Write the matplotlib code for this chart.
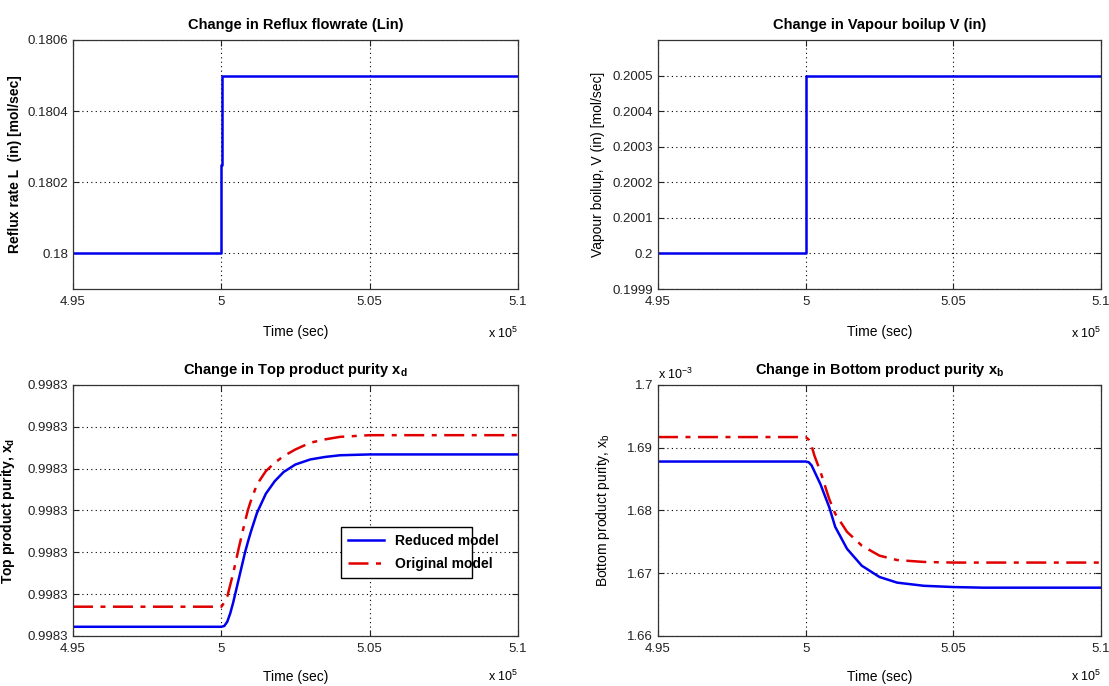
import matplotlib
matplotlib.use("Agg")
import matplotlib.pyplot as plt
from matplotlib.ticker import FuncFormatter, FormatStrFormatter

# --- data ---------------------------------------------------------------
# step inputs (time in seconds)
t_step = [495000, 500000, 500000, 500015, 500015, 510000]
L_in = [0.18, 0.18, 0.18025, 0.18025, 0.1805, 0.1805]
V_in = [0.2, 0.2, 0.20025, 0.20025, 0.2005, 0.2005]

# top product purity
t_xd = [495000, 500000, 500100, 500200, 500300, 500400, 500500, 500600, 500700,
        500800, 500900, 501000, 501200, 501500, 501800, 502100, 502500,
        503000, 503500, 504000, 505000, 510000]
xd_reduced = [0.9983011, 0.9983011, 0.9983012, 0.9983017, 0.9983027, 0.9983040,
              0.9983055, 0.9983070, 0.9983085, 0.9983100, 0.9983113, 0.9983125,
              0.9983147, 0.9983170, 0.9983185, 0.9983196, 0.9983205,
              0.9983211, 0.9983214, 0.9983216, 0.9983217, 0.9983217]
xd_original = [0.9983035, 0.9983035, 0.9983040, 0.9983047, 0.9983061, 0.9983075,
               0.9983091, 0.9983107, 0.9983122, 0.9983137, 0.9983151, 0.9983162,
               0.9983181, 0.9983197, 0.9983207, 0.9983215, 0.9983223,
               0.9983231, 0.9983235, 0.9983238, 0.9983240, 0.9983240]

# bottom product purity
t_xb = [495000, 500000, 500100, 500200, 500300, 500500, 500800, 501000,
        501400, 501900, 502500, 503100, 504000, 505000, 506000, 510000]
xb_reduced = [1.6878e-3, 1.6878e-3, 1.6877e-3, 1.6872e-3, 1.6862e-3, 1.6842e-3,
              1.6805e-3, 1.6774e-3, 1.6739e-3, 1.6712e-3, 1.6694e-3, 1.6685e-3,
              1.6680e-3, 1.6678e-3, 1.6677e-3, 1.6677e-3]
xb_original = [1.6917e-3, 1.6917e-3, 1.6913e-3, 1.6903e-3, 1.6887e-3, 1.6862e-3,
               1.6818e-3, 1.6795e-3, 1.6766e-3, 1.6744e-3, 1.6728e-3, 1.6721e-3,
               1.6718e-3, 1.6717e-3, 1.6717e-3, 1.6717e-3]

x_ticks = [495000, 500000, 505000, 510000]
L_ticks = [0.18, 0.1802, 0.1804, 0.1806]
V_ticks = [0.1999, 0.2, 0.2001, 0.2002, 0.2003, 0.2004, 0.2005]
xd_ticks = [0.998300, 0.998305, 0.998310, 0.998315, 0.998320, 0.998325, 0.998330]
xb_ticks = [1.66e-3, 1.67e-3, 1.68e-3, 1.69e-3, 1.70e-3]

# --- style --------------------------------------------------------------
plt.rcParams["font.family"] = ["Liberation Sans", "DejaVu Sans"]
plt.rcParams["mathtext.fontset"] = "custom"
plt.rcParams["mathtext.rm"] = "Liberation Sans"
plt.rcParams["mathtext.it"] = "Liberation Sans"
plt.rcParams["mathtext.bf"] = "Liberation Sans:bold"
plt.rcParams["axes.linewidth"] = 0.9
plt.rcParams["xtick.direction"] = "in"
plt.rcParams["ytick.direction"] = "in"
plt.rcParams["xtick.top"] = True
plt.rcParams["ytick.right"] = True

BLUE = "#0000ee"
RED = "#e00000"
FS = 9.5

fig = plt.figure(figsize=(11.09, 6.86), dpi=100)
ax1 = fig.add_axes([0.0658, 0.5787, 0.4013, 0.3630])
ax2 = fig.add_axes([0.5933, 0.5787, 0.3995, 0.3630])
ax3 = fig.add_axes([0.0658, 0.0729, 0.4013, 0.3659])
ax4 = fig.add_axes([0.5933, 0.0729, 0.3995, 0.3659])

xfmt = FuncFormatter(lambda v, p: f"{v / 1e5:g}")
for i, ax in enumerate((ax1, ax2, ax3, ax4)):
    top_row = i < 2
    ax.set_xlim(495000, 510000)
    ax.set_xticks(x_ticks)
    ax.xaxis.set_major_formatter(xfmt)
    ax.grid(True, color="k", linestyle=(0, (1, 3)), linewidth=0.8)
    ax.tick_params(labelsize=FS, length=4, width=0.8, colors="#222222")
    ax.tick_params(axis="x", pad=5)
    ax.set_xlabel("Time (sec)", fontsize=FS + 0.5)
    ax.xaxis.set_label_coords(0.5, -0.145 if top_row else -0.135)
    ax.text(1.0, -0.177 if top_row else -0.16, r"x 10$^{5}$", transform=ax.transAxes,
            fontsize=FS - 0.5, ha="right", va="center")
    for s in ax.spines.values():
        s.set_color("#333333")

# top-left: reflux
ax1.plot(t_step, L_in, color=BLUE, lw=1.8)
ax1.set_ylim(0.1799, 0.1806)
ax1.set_yticks(L_ticks)
ax1.yaxis.set_major_formatter(FuncFormatter(lambda v, p: f"{v:g}"))
ax1.set_title("Change in Reflux flowrate (Lin)", fontsize=FS + 1, fontweight="bold", pad=8)
ax1.set_ylabel("Reflux rate L  (in) [mol/sec]", fontsize=FS + 0.5, fontweight="bold")
ax1.yaxis.set_label_coords(-0.115, 0.5)

# top-right: vapour boilup
ax2.plot(t_step, V_in, color=BLUE, lw=1.8)
ax2.set_ylim(0.1999, 0.20060)
ax2.set_yticks(V_ticks)
ax2.yaxis.set_major_formatter(FuncFormatter(lambda v, p: f"{v:g}"))
ax2.set_title("Change in Vapour boilup V (in)", fontsize=FS + 1, fontweight="bold", pad=8)
ax2.set_ylabel("Vapour boilup, V (in) [mol/sec]", fontsize=FS + 0.5)
ax2.yaxis.set_label_coords(-0.12, 0.5)

# bottom-left: top product purity
ax3.plot(t_xd, xd_reduced, color=BLUE, lw=1.8, label="Reduced model")
ax3.plot(t_xd, xd_original, color=RED, lw=1.8, dashes=(8, 3, 2, 3),
         label="Original model")
ax3.set_ylim(0.998300, 0.998330)
ax3.set_yticks(xd_ticks)
ax3.yaxis.set_major_formatter(FormatStrFormatter("%.4f"))
ax3.set_title(r"Change in Top product purity x$_\mathbf{d}$", fontsize=FS + 1,
              fontweight="bold", pad=8)
ax3.set_ylabel(r"Top product purity, x$_\mathbf{d}$", fontsize=FS + 0.5,
               fontweight="bold")
ax3.yaxis.set_label_coords(-0.125, 0.5)
leg = ax3.legend(loc="lower left", bbox_to_anchor=(0.587, 0.205, 0.325, 0.233),
                 mode="expand", fancybox=False, framealpha=1, edgecolor="k",
                 handlelength=2.6, borderpad=0.5, labelspacing=0.6,
                 prop={"weight": "bold", "size": FS + 0.5})
leg.get_frame().set_linewidth(1.0)

# bottom-right: bottom product purity
ax4.plot(t_xb, xb_reduced, color=BLUE, lw=1.8)
ax4.plot(t_xb, xb_original, color=RED, lw=1.8, dashes=(8, 3, 2, 3))
ax4.set_ylim(1.66e-3, 1.70e-3)
ax4.set_yticks(xb_ticks)
ax4.yaxis.set_major_formatter(FuncFormatter(lambda v, p: f"{v * 1e3:g}"))
ax4.set_title(r"Change in Bottom product purity x$_\mathbf{b}$", fontsize=FS + 1,
              fontweight="bold", pad=8)
ax4.set_ylabel(r"Bottom product purity, x$_\mathregular{b}$", fontsize=FS + 0.5)
ax4.yaxis.set_label_coords(-0.104, 0.5)
ax4.text(0.0, 1.01, r"x 10$^{-3}$", transform=ax4.transAxes, fontsize=FS - 0.5,
         ha="left", va="bottom")

fig.savefig("out.png", dpi=100)
